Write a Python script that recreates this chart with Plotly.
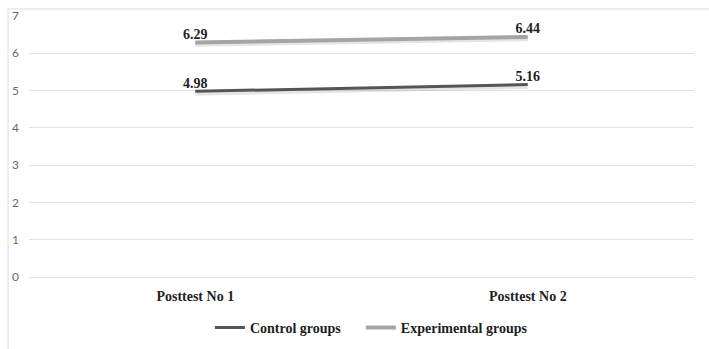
import plotly.graph_objects as go

# Mean scores by test occasion
categories = ["Posttest No 1", "Posttest No 2"]
control = [4.98, 5.16]
experimental = [6.29, 6.44]
series_names = ["Control groups", "Experimental groups"]
y_ticks = [0, 1, 2, 3, 4, 5, 6, 7]

colors = ["#555555", "#a5a5a5"]
widths = [3, 4]
legend_ids = ["legend", "legend2"]
serif_bold = dict(family="Liberation Serif", size=14, color="#1e1e1e", weight="bold")

fig = go.Figure()

# soft drop shadow under each line
for vals in (control, experimental):
    fig.add_trace(go.Scatter(
        x=categories, y=[v - 0.05 for v in vals], mode="lines",
        line=dict(color="rgba(0,0,0,0.10)", width=5),
        showlegend=False, hoverinfo="skip"))

for name, vals, col, w, lg in zip(series_names, [control, experimental], colors, widths, legend_ids):
    fig.add_trace(go.Scatter(
        x=categories, y=vals, name=name, mode="lines+text",
        line=dict(color=col, width=w),
        text=[f"{v:.2f}" for v in vals],
        textposition="top center",
        textfont=serif_bold, legend=lg))

legend_style = dict(orientation="h", xanchor="left", y=-0.195, yanchor="middle",
                    font=serif_bold, bgcolor="rgba(0,0,0,0)")

fig.update_layout(
    width=709, height=349,
    margin=dict(l=29, r=15, t=16, b=72, autoexpand=False),
    paper_bgcolor="white", plot_bgcolor="white",
    showlegend=True,
    legend=dict(x=0.272, **legend_style),
    legend2=dict(x=0.499, **legend_style),
    xaxis=dict(type="category", range=[-0.5, 1.5], showgrid=False, zeroline=False,
               showline=False, ticks="", ticklabelstandoff=9, automargin=False,
               tickfont=serif_bold),
    yaxis=dict(range=[0, 7], tickvals=y_ticks, showgrid=True, gridcolor="#e3e3e3",
               gridwidth=1, zeroline=True, zerolinecolor="#e3e3e3", zerolinewidth=1,
               showline=False, ticks="", automargin=False,
               ticklabelstandoff=9,
               tickfont=dict(family="Lato", size=12, color="#6a6a6a")),
    shapes=[dict(type="rect", xref="paper", yref="paper", x0=-0.0315, x1=1.1,
                 y0=-0.5, y1=1.027, line=dict(color="#dcdcdc", width=1),
                 fillcolor="rgba(0,0,0,0)", layer="below")],
)

fig.write_html("out.html")
